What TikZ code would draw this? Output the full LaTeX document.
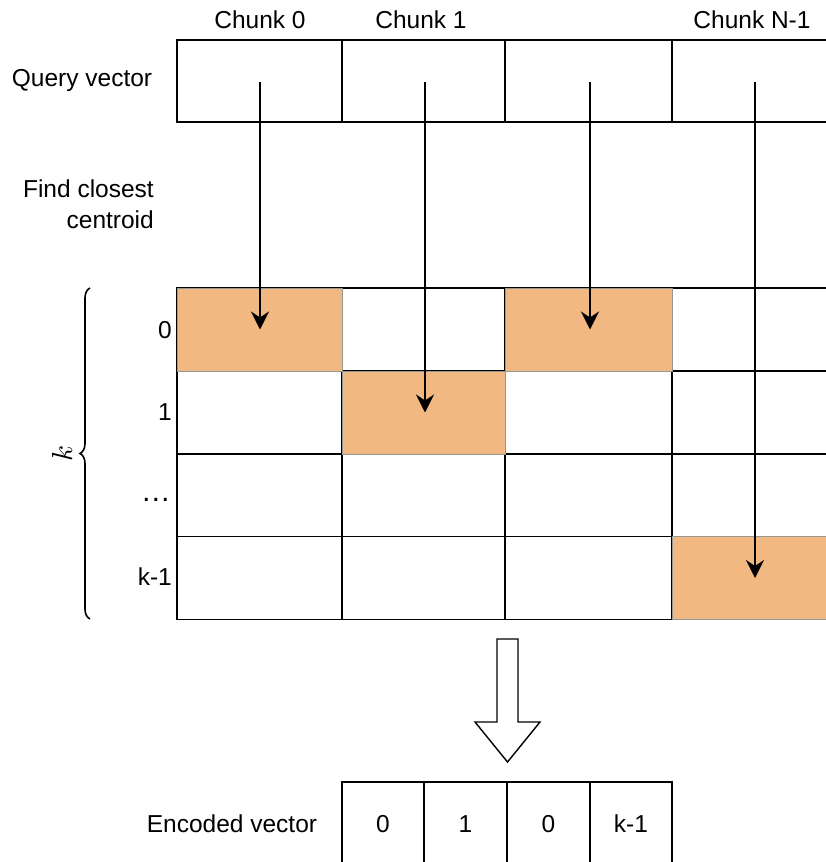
\documentclass[tikz,border=0pt]{standalone}
\usepackage{fontspec}
\setmainfont{Liberation Sans}
\usetikzlibrary{arrows.meta,decorations.pathreplacing}
\definecolor{hit}{RGB}{241,185,129}
\definecolor{hitline}{RGB}{150,150,150}
\tikzset{
  cell/.style={draw=black, line width=1.6pt, fill=white, inner sep=0pt, minimum height=83pt},
  hitcell/.style={draw=hitline, line width=0.8pt, fill=hit, inner sep=0pt, minimum height=83pt},
  lbl/.style={font=\fontsize{24.5}{31}\selectfont, inner sep=0pt},
  pick/.style={line width=2pt, -{Stealth[length=18pt,width=18pt,inset=6pt]}},
}
\begin{document}
\begin{tikzpicture}[x=1pt,y=-1pt]
\useasboundingbox (0,0) rectangle (826,862);
% query vector
\node[cell, minimum width=165pt, minimum height=82pt] (q0) at (259.5,81) {};
\node[cell, minimum width=163pt, minimum height=82pt] (q1) at (423.5,81) {};
\node[cell, minimum width=167pt, minimum height=82pt] (q2) at (588.5,81) {};
\node[cell, minimum width=166pt, minimum height=82pt] (q3) at (755,81) {};
% grid
\foreach \r/\y in {0/329.5,1/412.5,2/495.5,3/578}{
  \node[cell, minimum width=165pt] (g\r0) at (259.5,\y) {};
  \node[cell, minimum width=163pt] (g\r1) at (423.5,\y) {};
  \node[cell, minimum width=167pt] (g\r2) at (588.5,\y) {};
  \node[cell, minimum width=166pt] (g\r3) at (755,\y) {};
}
\node[hitcell, minimum width=165pt] at (g00) {};
\node[hitcell, minimum width=163pt] at (g11) {};
\node[hitcell, minimum width=167pt] at (g02) {};
\node[hitcell, minimum width=166pt] at (g33) {};
% arrow start points
\coordinate (a0) at (260,82);
\coordinate (a1) at (425,82);
\coordinate (a2) at (590,82);
\coordinate (a3) at (755,82);
\draw[pick] (a0) -- (a0 |- g00.center);
\draw[pick] (a1) -- (a1 |- g11.center);
\draw[pick] (a2) -- (a2 |- g02.center);
\draw[pick] (a3) -- (a3 |- g33.center);
% labels
\node[lbl] at (260,20) {Chunk 0};
\node[lbl] at (421,20) {Chunk 1};
\node[lbl] at (752,20) {Chunk N-1};
\node[lbl] at (82,80) {Query vector};
\node[lbl, anchor=east, align=right] at (154,204) {Find closest\\centroid};
\node[lbl, anchor=east] at (172,330) {0};
\node[lbl, anchor=east] at (172,412) {1};
\node[lbl, anchor=east, font=\fontsize{30}{31}\selectfont] at (171,500) {…};
\node[lbl, anchor=east] at (172,577) {k-1};
% brace
\draw[line width=1.6pt, decorate, decoration={brace, amplitude=10pt}] (90,619) -- (90,288);
\node[inner sep=0pt, rotate=90] at (62,453) {\scalebox{2.9}{$k$}};
% big arrow
\draw[line width=1.4pt, fill=white, line join=miter] (497,639) -- (518,639) -- (518,722) -- (540,722) -- (507.5,762) -- (475,722) -- (497,722) -- cycle;
% encoded vector
\node[cell, minimum width=82pt, minimum height=84pt] (e0) at (383,824) {};
\node[cell, minimum width=83pt, minimum height=84pt] (e1) at (465.5,824) {};
\node[cell, minimum width=83pt, minimum height=84pt] (e2) at (548.5,824) {};
\node[cell, minimum width=82pt, minimum height=84pt] (e3) at (631,824) {};
\node[lbl] at (e0) {0};
\node[lbl] at (e1) {1};
\node[lbl] at (e2) {0};
\node[lbl] at (e3) {k-1};
\node[lbl] at (232,824) {Encoded vector};
\end{tikzpicture}
\end{document}
